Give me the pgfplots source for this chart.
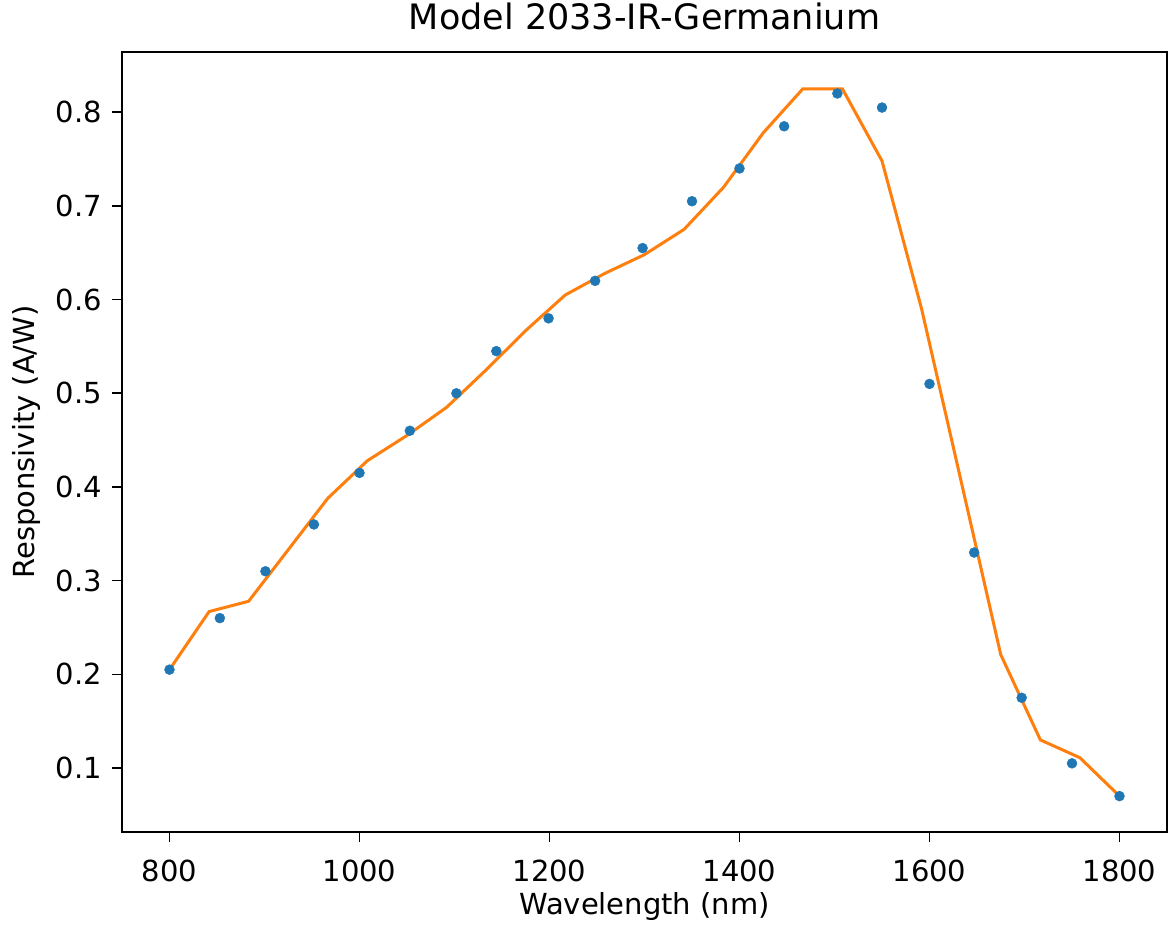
\documentclass[border=0pt]{standalone}
\usepackage{pgfplots}
\pgfplotsset{compat=1.18}
\usepackage{fontspec}
\setmainfont{DejaVu Sans}

\definecolor{mplblue}{HTML}{1F77B4}
\definecolor{mplorange}{HTML}{FF7F0E}

\begin{document}
\begin{tikzpicture}
\path[use as bounding box] (-122pt,-100pt) rectangle (1050pt,832pt);
\begin{axis}[
  scale only axis,
  width=1045pt, height=780pt,
  xmin=750, xmax=1850,
  ymin=0.0317, ymax=0.8643,
  xtick={800,1000,...,1800},
  ytick={0.1,0.2,...,0.81},
  xtick pos=bottom, ytick pos=left,
  axis line style={line width=1.6pt},
  tick style={line width=1.6pt, black},
  tick align=outside,
  major tick length=10pt,
  xticklabel style={font=\fontsize{29}{34}\selectfont, anchor=north, inner sep=0pt, yshift=-18pt},
  yticklabel style={font=\fontsize{29}{34}\selectfont, anchor=east, inner sep=0pt, xshift=-10pt},
  /pgf/number format/assume math mode=true,
  /pgf/number format/fixed,
  /pgf/number format/precision=1,
  /pgf/number format/fixed zerofill,
  xticklabel={\pgfmathprintnumber[fixed,precision=0,1000 sep={}]{\tick}},
  title={Model 2033-IR-Germanium},
  title style={font=\fontsize{35}{40}\selectfont, at={(axis description cs:0.5,1)}, anchor=center, yshift=30pt},
  xlabel={Wavelength (nm)},
  xlabel style={font=\fontsize{29}{34}\selectfont, at={(axis description cs:0.5,0)}, anchor=center, yshift=-74pt},
  ylabel={Responsivity (A/W)},
  ylabel style={font=\fontsize{29}{34}\selectfont, at={(axis description cs:0,0.5)}, anchor=center, yshift=95pt},
  clip=false,
]
% measured responsivity
\addplot[only marks, mark=*, mark size=5pt, mplblue, mark options={draw=mplblue, fill=mplblue}] coordinates {
  (800,0.205) (853,0.26) (901,0.31) (952,0.36) (1000,0.415) (1053,0.46)
  (1102,0.50) (1144,0.545) (1199,0.58) (1248,0.62) (1298,0.655) (1350,0.705)
  (1400,0.74) (1447,0.785) (1503,0.82) (1550,0.805) (1600,0.51) (1647,0.33)
  (1697,0.175) (1750,0.105) (1800,0.07)
};
% model curve
\addplot[mplorange, line width=3pt, no marks] coordinates {
  (800,0.205) (841.7,0.267) (883.3,0.278) (925,0.333) (966.7,0.388)
  (1008.3,0.428) (1050,0.455) (1091.7,0.485) (1133.3,0.525) (1175,0.567)
  (1216.7,0.605) (1258.3,0.628) (1300,0.648) (1341.7,0.675) (1383.3,0.720)
  (1425,0.778) (1466.7,0.825) (1508.3,0.825) (1550,0.748) (1591.7,0.590)
  (1633.3,0.406) (1675,0.221) (1716.7,0.130) (1758.3,0.111) (1800,0.070)
};
\end{axis}
\end{tikzpicture}
\end{document}
